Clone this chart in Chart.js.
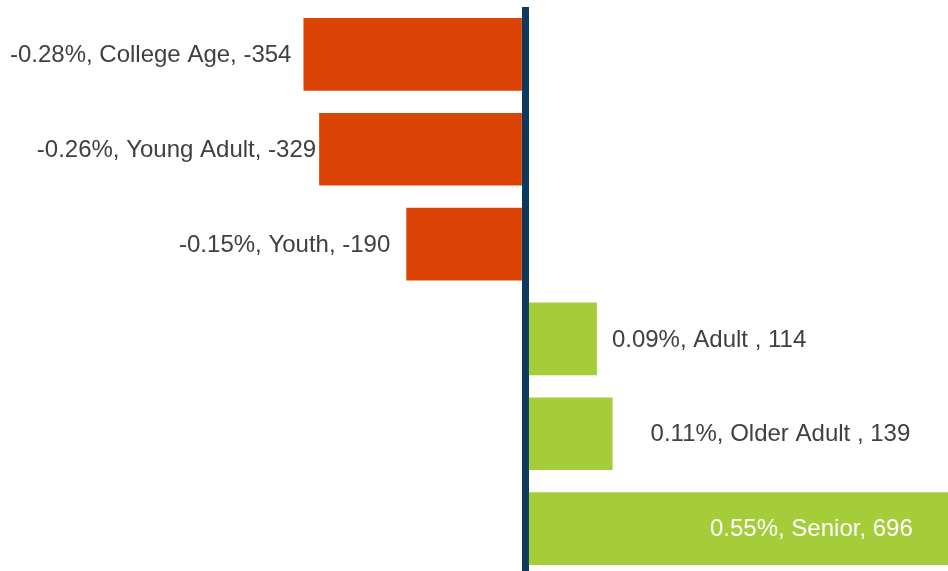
<!DOCTYPE html>
<html>
<head>
<meta charset="utf-8">
<script src="https://cdn.jsdelivr.net/npm/chart.js@4/dist/chart.umd.min.js"></script>
<style>
  html, body { margin: 0; padding: 0; background: #ffffff; overflow: hidden; width: 948px; height: 571px; }
  #wrap { position: absolute; left: 0; top: 0; width: 948px; height: 576px; }
</style>
</head>
<body>
<div id="wrap"><canvas id="c" width="948" height="576"></canvas></div>
<script>
const categories = ["College Age", "Young Adult", "Youth", "Adult ", "Older Adult ", "Senior"];
const changeValues = [-354, -329, -190, 114, 139, 696];
const changePercents = ["-0.28%", "-0.26%", "-0.15%", "0.09%", "0.11%", "0.55%"];

const NEG_COLOR = "#DC4405";
const POS_COLOR = "#A4CD39";
const AXIS_COLOR = "#0C3A5E";
const TEXT_COLOR = "#404040";

// label placement (pixel nudges relative to bar end), style only
const labelStyle = [
  { dx: -12, inside: false },
  { dx: -3,  inside: false },
  { dx: -16, inside: false },
  { dx: 15,  inside: false },
  { dx: 38,  inside: false },
  { dx: -49, inside: true }
];

const labelPlugin = {
  id: "barLabels",
  afterDatasetsDraw(chart) {
    const ctx = chart.ctx;
    const meta = chart.getDatasetMeta(0);
    ctx.save();
    ctx.font = "24px 'Liberation Sans', Arial, sans-serif";
    ctx.textBaseline = "middle";
    meta.data.forEach((bar, i) => {
      const v = changeValues[i];
      const txt = changePercents[i] + ", " + categories[i] + ", " + v;
      const st = labelStyle[i];
      const x = bar.x + st.dx;
      if (st.inside) {
        ctx.fillStyle = "#ffffff";
        ctx.textAlign = "right";
      } else {
        ctx.fillStyle = TEXT_COLOR;
        ctx.textAlign = v < 0 ? "right" : "left";
      }
      ctx.fillText(txt, x, bar.y + 1);
    });
    ctx.restore();
  }
};

new Chart(document.getElementById("c"), {
  type: "bar",
  data: {
    labels: categories,
    datasets: [{
      data: changeValues,
      backgroundColor: changeValues.map(v => v < 0 ? NEG_COLOR : POS_COLOR),
      borderWidth: 0,
      barPercentage: 0.766,
      categoryPercentage: 1.0
    }]
  },
  options: {
    indexAxis: "y",
    responsive: false,
    animation: false,
    layout: { padding: { top: 7, bottom: 0, left: 0, right: 0 } },
    plugins: { legend: { display: false }, tooltip: { enabled: false } },
    scales: {
      x: {
        min: -838,
        max: 674,
        z: 1,
        ticks: { display: false, stepSize: 200 },
        border: { display: false },
        grid: {
          drawTicks: false,
          color: c => (c.tick && c.tick.value === 0) ? AXIS_COLOR : "rgba(0,0,0,0)",
          lineWidth: c => (c.tick && c.tick.value === 0) ? 7 : 0
        }
      },
      y: {
        ticks: { display: false },
        border: { display: false },
        grid: { display: false, drawTicks: false }
      }
    }
  },
  plugins: [labelPlugin]
});
</script>
</body>
</html>
